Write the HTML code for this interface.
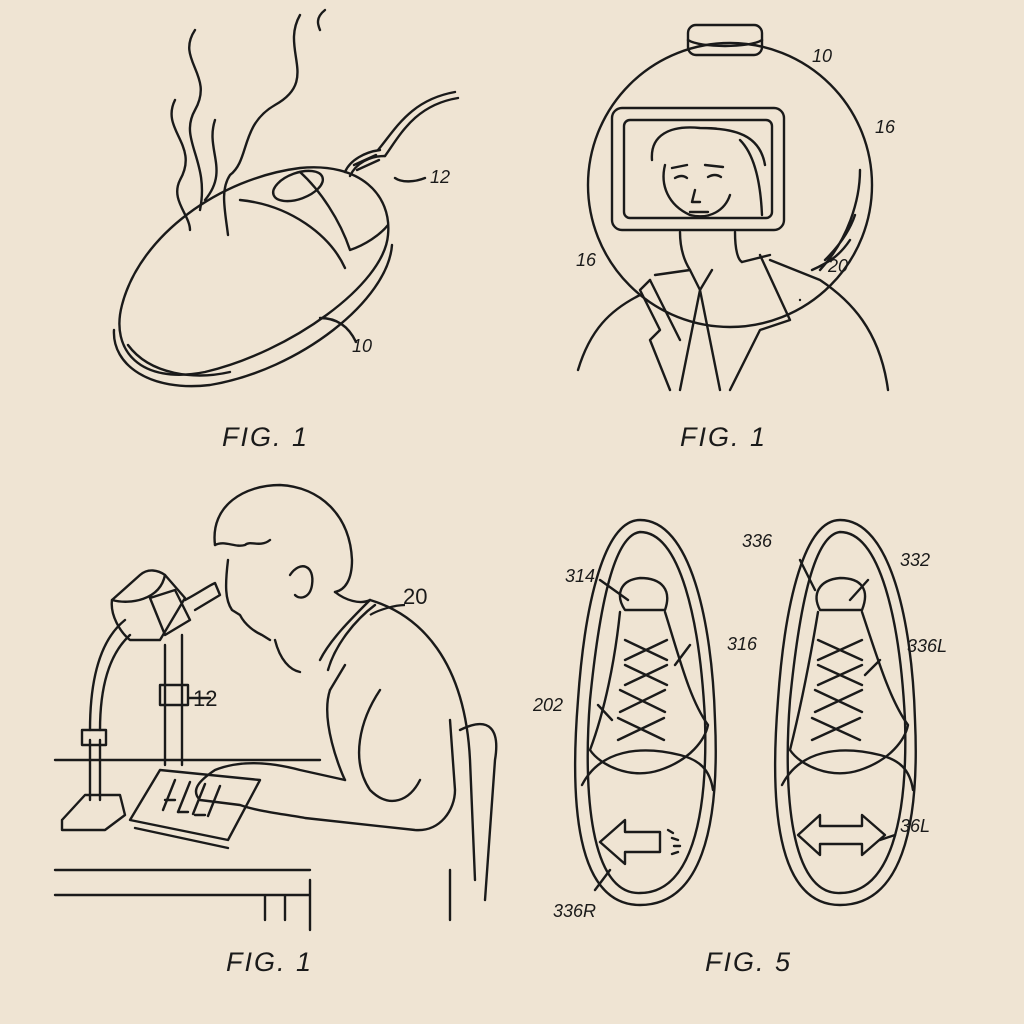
<!DOCTYPE html>
<html><head><meta charset="utf-8"><style>
html,body{margin:0;padding:0;background:#efe4d3;}
svg{display:block}
text{font-family:"Liberation Sans",sans-serif;font-style:italic;fill:#1a1a1a}
</style></head><body>
<svg width="1024" height="1024" viewBox="0 0 1024 1024" xmlns="http://www.w3.org/2000/svg">
<rect width="1024" height="1024" fill="#efe4d3"/>
<g fill="none" stroke="#1a1a1a" stroke-width="2.4" stroke-linecap="round" stroke-linejoin="round">
<!-- ===== Panel 1 mouse ===== -->
<path d="M122,305 C140,235 220,178 300,168 C360,162 392,195 388,235 C384,285 290,352 205,372 C140,385 110,350 122,305 Z"/>
<path d="M114,330 C112,365 150,392 210,385 C300,370 388,300 392,245"/>
<path d="M128,345 C150,375 195,380 230,372"/>
<path d="M240,200 C290,205 330,235 345,268"/>
<path d="M300,172 C320,190 340,220 350,250 C365,245 380,235 388,225"/>
<ellipse cx="298" cy="186" rx="26" ry="13" transform="rotate(-20 298 186)"/>
<path d="M345,172 C350,160 365,152 380,150 M350,176 C356,163 370,156 385,156 M354,165 l22,-10 M357,170 l22,-10"/>
<path d="M378,150 C395,130 410,100 455,92 M385,156 C400,135 415,105 458,98"/>
<path d="M195,30 C175,60 215,75 195,110 C178,140 210,160 200,210"/>
<path d="M175,100 C160,130 200,145 180,180 C170,200 190,215 190,230"/>
<path d="M300,15 C280,50 320,80 275,105 C240,125 250,160 230,175 C220,190 225,210 228,235"/>
<path d="M325,10 C315,18 318,25 320,30"/>
<path d="M215,120 C205,150 230,170 205,200"/>
<path d="M356,342 C348,325 335,318 320,318 M395,178 C402,183 415,182 425,178"/>
<!-- ===== Panel 2 helmet ===== -->
<circle cx="730" cy="185" r="142"/>
<rect x="688" y="25" width="74" height="30" rx="8"/>
<path d="M688,40 C700,48 750,48 762,40"/>
<rect x="612" y="108" width="172" height="122" rx="10"/>
<rect x="624" y="120" width="148" height="98" rx="6"/>
<path d="M652,160 C650,135 670,125 700,128 C735,128 760,135 765,165 M740,140 C750,150 760,170 762,215"/>
<path d="M665,165 C660,185 668,205 690,215 C710,220 725,210 730,195"/>
<path d="M672,168 l15,-3 M705,165 l18,2 M675,178 q7,-4 12,0 M708,177 q7,-4 13,0 M695,190 l-3,12 h8 M690,212 h18"/>
<path d="M680,232 C680,250 685,262 690,270 M735,232 C735,250 738,260 742,262"/>
<path d="M690,270 L700,290 L712,270 M655,275 L690,270 M742,262 L770,255 M700,290 L680,390 M700,290 L720,390"/>
<path d="M640,295 C610,310 590,330 578,370 M650,280 L680,340 M760,255 L790,320 L760,330 L730,390 M770,260 L820,280 C850,300 880,330 888,390"/>
<path d="M650,280 L640,290 L660,330 L650,340 L670,390 M800,300 L800,300"/>
<path d="M860,170 C860,200 848,240 820,270 M850,240 C840,255 830,262 812,270 M855,215 c-5,15 -15,30 -30,45"/>
<!-- ===== Panel 3 microscope person ===== -->
<path d="M215,545 C210,505 245,485 280,485 C320,487 350,515 352,560 C352,580 345,590 335,592"/>
<path d="M215,545 C225,540 235,548 245,545 C250,540 260,548 270,540"/>
<path d="M228,560 C225,585 225,600 232,610 L240,615 C245,625 255,632 262,635 L270,640"/>
<path d="M290,575 C300,560 315,565 312,585 C310,598 300,600 295,595"/>
<path d="M275,640 C280,660 290,670 300,672 M335,592 C345,600 360,605 370,600"/>
<path d="M370,600 C420,615 465,660 470,760 L475,880 M320,660 C330,640 350,620 370,600 M328,670 C335,645 355,620 375,605"/>
<path d="M330,690 C320,720 340,770 345,780 M380,690 C360,720 350,760 370,790 C390,810 410,800 420,780"/>
<path d="M330,690 L345,665 M345,780 L300,770 C270,762 240,760 215,770 C200,780 190,790 200,800 L240,805 C260,812 290,815 305,818 L415,830 C440,832 455,810 455,790 L450,720"/>
<path d="M460,730 C490,715 500,730 495,760 L485,900"/>
<path d="M55,760 H320 M55,870 H310 M55,895 H310 M265,895 V920 M285,895 V920 M310,880 V930 M450,870 L450,920"/>
<path d="M130,820 L160,770 L260,780 L228,840 Z M135,828 L228,848"/>
<path d="M175,780 l-12,30 M190,782 l-12,30 M205,784 l-12,30 M220,786 l-12,30"/>
<path d="M165,800 l10,0 M178,812 l10,0 M195,815 l10,0"/>
<path d="M62,820 L85,795 H120 L125,815 L105,830 H62 Z M62,820 V830"/>
<path d="M90,800 V740 M100,800 V740 M82,730 H106 V745 H82 Z"/>
<path d="M90,730 C90,680 100,640 125,620 M100,730 C100,690 108,655 130,635"/>
<path d="M112,600 L140,575 C148,568 158,570 165,575 L185,598 L160,640 L130,640 C120,632 110,615 112,600 Z"/>
<path d="M112,600 C130,605 160,600 165,575 M150,598 L175,590 L190,620 L165,635 Z"/>
<path d="M185,600 C195,595 210,585 215,583 L220,595 L195,610"/>
<path d="M165,645 V765 M182,635 V765 M160,685 H188 V705 H160 Z M188,698 H210"/>
<!-- ===== Panel 4 shoes ===== -->
<path d="M640,520 C605,520 585,600 578,700 C570,800 575,905 640,905 C700,905 720,830 715,720 C712,620 690,520 640,520 Z"/>
<path d="M640,532 C615,535 600,600 590,700 C583,790 590,895 640,893 C690,893 708,820 705,720 C700,620 680,532 640,532 Z"/>
<path d="M625,610 C615,595 620,580 640,578 C662,578 672,590 665,610 Z"/>
<path d="M620,612 C615,660 605,710 590,750 C600,765 630,780 660,770 C690,760 705,740 708,725 C690,700 680,660 665,612"/>
<path d="M582,785 C600,750 640,745 680,755 C700,760 710,770 713,790"/>
<path d="M625,640 l42,20 M625,660 l42,-20 M625,665 l42,20 M625,685 l42,-20 M620,690 l45,22 M620,712 l45,-22 M618,718 l46,22 M618,740 l46,-22"/>
<path d="M600,842 L625,820 V832 H660 V852 H625 V864 Z"/>
<path d="M668,830 l5,3 M672,838 l6,2 M674,846 l6,0 M672,854 l6,-2"/>
<path d="M840,520 C805,520 785,600 778,700 C770,800 775,905 840,905 C900,905 920,830 915,720 C912,620 890,520 840,520 Z"/>
<path d="M840,532 C815,535 800,600 790,700 C783,790 790,895 840,893 C890,893 908,820 905,720 C900,620 880,532 840,532 Z"/>
<path d="M820,610 C812,595 818,580 840,578 C862,578 870,590 862,610 Z"/>
<path d="M818,612 C810,660 800,710 790,750 C800,765 830,780 860,770 C890,760 905,740 908,725 C890,700 878,660 862,612"/>
<path d="M782,785 C800,750 840,745 880,755 C900,760 910,770 913,790"/>
<path d="M818,640 l44,20 M818,660 l44,-20 M818,665 l44,20 M818,685 l44,-20 M815,690 l47,22 M815,712 l47,-22 M812,718 l48,22 M812,740 l48,-22"/>
<path d="M798,835 L820,815 V826 H862 V815 L885,835 L862,855 V844 H820 V855 Z"/>
<!-- leader lines -->
<path d="M600,580 L628,600 M598,705 L612,720 M690,645 L675,665 M800,560 L815,590 M868,580 L850,600 M880,660 L865,675 M895,835 L880,840 M595,890 L610,870"/>
</g>
<g font-size="18">
<text x="430" y="183">12</text>
<text x="352" y="352">10</text>
<text x="812" y="62">10</text>
<text x="875" y="133">16</text>
<text x="576" y="266">16</text>
<text x="828" y="272">20</text>
<text x="565" y="582">314</text>
<text x="727" y="650">316</text>
<text x="533" y="711">202</text>
<text x="742" y="547">336</text>
<text x="900" y="566">332</text>
<text x="907" y="652">336L</text>
<text x="900" y="832">36L</text>
<text x="553" y="917">336R</text>
</g>
<g font-size="22" font-style="normal">
<text x="193" y="706" style="font-style:normal">12</text>
<text x="403" y="604" style="font-style:normal">20</text>
</g>
<path d="M405,605 C395,605 378,610 370,615" fill="none" stroke="#1a1a1a" stroke-width="2.2"/>
<g font-size="27" letter-spacing="2">
<text x="222" y="446">FIG. 1</text>
<text x="680" y="446">FIG. 1</text>
<text x="226" y="971">FIG. 1</text>
<text x="705" y="971">FIG. 5</text>
</g>
</svg>
</body></html>
